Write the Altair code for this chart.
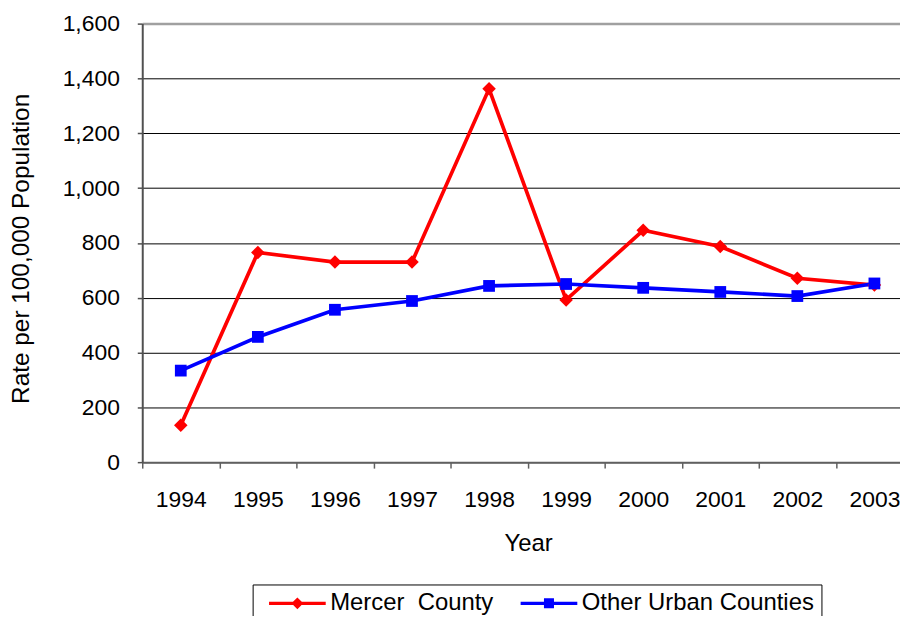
import altair as alt
import pandas as pd

years = list(range(1994, 2004))
mercer = [135, 765, 730, 730, 1362, 592, 846, 787, 671, 646]
other = [334, 457, 556, 588, 643, 650, 636, 621, 606, 652]
series_names = ["Mercer\u00a0 County", "Other Urban Counties"]
series_colors = ["#FF0000", "#0000FF"]
series_shapes = ["diamond", "square"]
series_sizes = [185, 140]
y_ticks = [0, 200, 400, 600, 800, 1000, 1200, 1400, 1600]
x_boundaries = [1993.5, 1994.5, 1995.5, 1996.5, 1997.5, 1998.5, 1999.5, 2000.5, 2001.5, 2002.5]

rows = []
for name, vals in zip(series_names, [mercer, other]):
    for yr, v in zip(years, vals):
        rows.append({"Year": yr, "Rate": v, "Series": name})
df = pd.DataFrame(rows)

FONT = "Liberation Sans"

# legend symbols: line segment + marker (custom paths, unit r = 9.5px)
p_mercer = "M-1,-0.184H5V0.184H-1Z M2,-0.63L2.63,0L2,0.63L1.37,0Z"
p_other = "M-1,-0.184H5V0.184H-1Z M1.47,-0.53H2.53V0.53H1.47Z"

legend = alt.Legend(
    orient="none", legendX=111, legendY=564, direction="horizontal", title=None,
    labelFont=FONT, labelFontSize=24, labelColor="#000000", labelLimit=400,
    symbolSize=361, symbolStrokeWidth=0, symbolOffset=7, labelOffset=40,
    columnPadding=17, padding=7, strokeColor="#000000", fillColor="#FFFFFF",
    symbolOpacity=1,
)

color_scale = alt.Scale(domain=series_names, range=series_colors)
color_enc = alt.Color("Series:N", scale=color_scale, legend=legend)

x_vals = sorted(x_boundaries + years)
x_enc = alt.X(
    "Year:Q",
    scale=alt.Scale(domain=[1993.5, 2003.332], nice=False, zero=False),
    axis=alt.Axis(
        values=x_vals,
        labelExpr="(datum.value % 1 === 0) ? toString(datum.value) : ''",
        labelFont=FONT, labelFontSize=23, labelColor="#000000",
        labelBaseline="alphabetic", labelPadding=39, labelFlush=False, labelOverlap=False,
        tickSize=6, tickColor="#606060", tickWidth=1.5,
        tickOpacity={"condition": {"test": "datum.value % 1 !== 0", "value": 1}, "value": 0},
        domainColor="#606060", domainWidth=2, grid=False,
        title="Year", titleFont=FONT, titleFontSize=24, titleFontWeight="normal", titleColor="#000000",
        titleBaseline="alphabetic", titleX=388, titleY=89, titleAlign="center",
    ),
)
y_enc = alt.Y(
    "Rate:Q",
    scale=alt.Scale(domain=[0, 1600], nice=False),
    axis=alt.Axis(
        values=y_ticks, format=",d",
        labelFont=FONT, labelFontSize=23, labelColor="#000000", labelPadding=18,
        tickSize=5, tickColor="#505050", tickWidth=1.5,
        domainColor="#505050", domainWidth=2,
        grid=True,
        gridColor={"condition": {"test": "datum.value === 1600", "value": "#a0a0a0"}, "value": "#000000"},
        gridWidth={"condition": {"test": "datum.value === 1600", "value": 2.5}, "value": 1},
        title="Rate per 100,000 Population", titleFont=FONT, titleFontSize=24.5,
        titleFontWeight="normal", titleColor="#000000",
        titleAngle=270, titleBaseline="middle", titleX=-121, titleY=226, titleAlign="center",
    ),
)

base = alt.Chart(df)
lines = base.mark_line(strokeWidth=3.7).encode(x=x_enc, y=y_enc, color=color_enc)
marker_layers = []
for name, shp, sz in zip(series_names, series_shapes, series_sizes):
    marker_layers.append(
        base.transform_filter(alt.datum.Series == name)
        .mark_point(filled=True, opacity=1, shape=shp, size=sz)
        .encode(x=x_enc, y=y_enc, color=color_enc)
    )
legend_layer = base.mark_point(filled=True, opacity=0).encode(
    x=x_enc, y=y_enc,
    color=color_enc,
    shape=alt.Shape("Series:N", scale=alt.Scale(domain=series_names, range=[p_mercer, p_other]), legend=legend),
)

chart = alt.layer(lines, *marker_layers, legend_layer).properties(
    width=762, height=441,
    autosize=alt.AutoSizeParams(type="none"),
    padding={"left": 135, "top": 14, "right": 0, "bottom": 153},
    background="#FFFFFF",
).configure_view(strokeWidth=0)

chart.save("out.html", embed_options={"renderer": "svg", "actions": False})
